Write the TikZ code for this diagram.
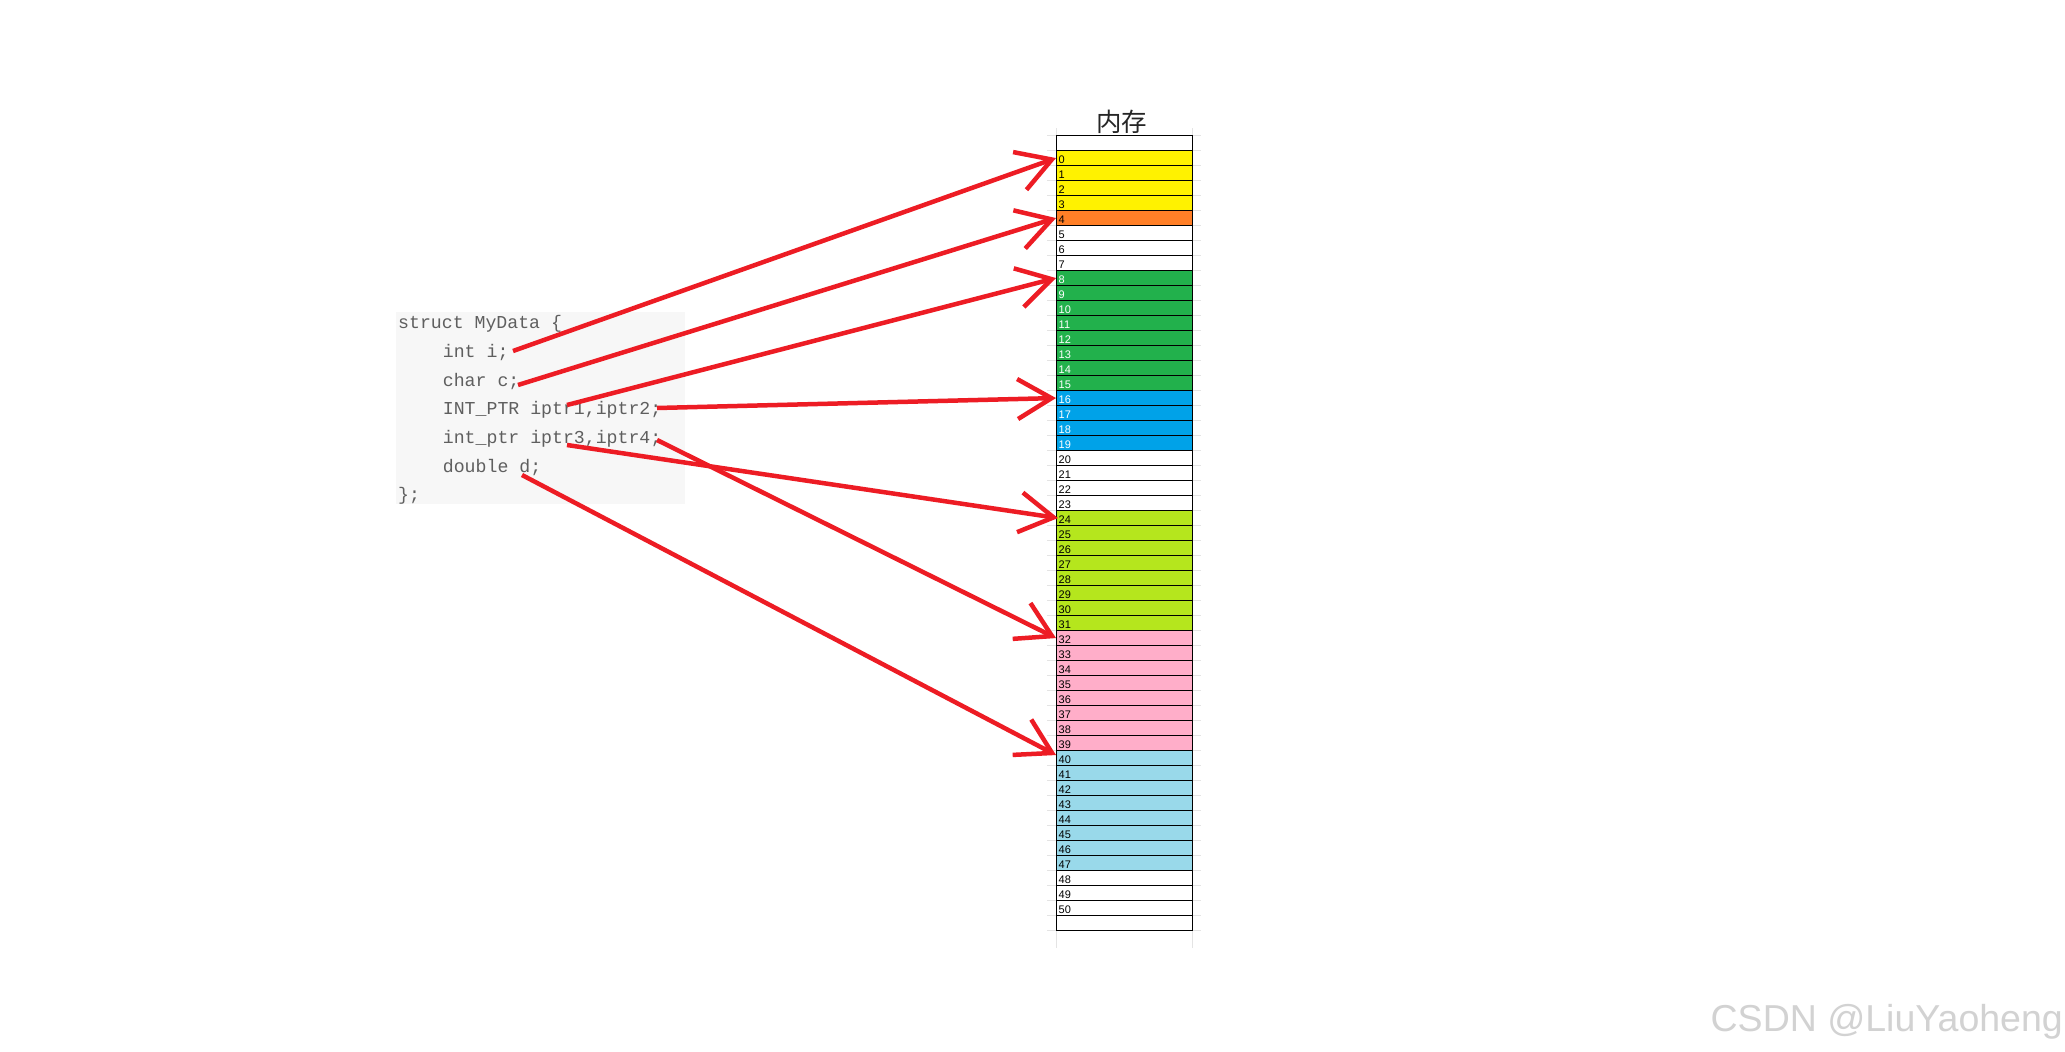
\documentclass[tikz,border=0pt]{standalone}
\usepackage{fontspec}
\usepackage{xcolor}
\usepackage{tikz}
\usetikzlibrary{positioning}
\usetikzlibrary{arrows.meta}
\setmainfont{Liberation Sans}
\newfontfamily\codefont{Liberation Mono}
\newfontfamily\cjkfont{Noto Sans CJK SC}
\definecolor{memyellow}{RGB}{255,242,0}
\definecolor{memorange}{RGB}{255,127,39}
\definecolor{memgreen}{RGB}{34,177,76}
\definecolor{memblue}{RGB}{0,162,232}
\definecolor{memlime}{RGB}{181,230,29}
\definecolor{mempink}{RGB}{255,174,201}
\definecolor{memsky}{RGB}{153,217,234}
\definecolor{paintred}{RGB}{237,28,36}
\definecolor{codebg}{RGB}{247,247,247}
\definecolor{codetext}{RGB}{95,95,95}
\definecolor{gridgray}{RGB}{228,228,228}
\definecolor{markgray}{RGB}{210,210,210}

\begin{document}
\begin{tikzpicture}[x=1pt,y=-1pt]
			\tikzstyle{Cell}    = [shape = rectangle, draw, line width = 1.1pt, minimum width = 136pt, minimum height = 15pt, inner sep = 0pt, anchor = north west]
			\tikzstyle{Num}     = [font = \fontsize{11}{11}\selectfont, inner sep = 0pt, anchor = west]
			\tikzstyle{Code}    = [font = \codefont\fontsize{18.2}{20}\selectfont, text = codetext, inner sep = 0pt, anchor = base west]
			\tikzstyle{Pointer} = [draw = paintred, line width = 4.5pt, -{Straight Barb[length=34pt,width=40pt]}]
			\path[use as bounding box, fill = white] (0,0) rectangle (2065,1052);
			% sheet grid
			\foreach \k in {0,...,53}
				\draw[gridgray, line width = 1pt] (1047,{135+15*\k}) -- (1201,{135+15*\k});
			\draw[gridgray, line width = 1pt] (1056,128) -- (1056,948) (1192,128) -- (1192,948);
			% memory
			\foreach \a/\b/\col in {0/3/memyellow, 4/4/memorange, 8/15/memgreen, 16/19/memblue, 24/31/memlime, 32/39/mempink, 40/47/memsky}
				\fill[\col] (1056,{150+15*\a}) rectangle (1192,{165+15*\b});
			\node[Cell] (rtop) at (1056,135) {};
			\foreach \k in {0,...,50}
				\node[Cell] (r\k) at (1056,{150+15*\k}) {};
			\node[Cell] (rbot) at (1056,915) {};
			\foreach \k in {0,...,7,20,21,...,50}
				\node[Num] (n\k) at ([xshift = 2.5pt, yshift = -1.5pt]r\k.west) {\k};
			\foreach \k in {8,...,19}
				\node[Num, text = white] (n\k) at ([xshift = 2.5pt, yshift = -1.5pt]r\k.west) {\k};
			\node[font = \cjkfont\fontsize{25.5}{25.5}\selectfont, text = black!85, inner sep = 1pt, above = 0pt of rtop, xshift = -3pt] (title) {内存};
			% struct
			\fill[codebg] (396,312) rectangle (685,504);
			\node[Code] (l1) at (398,328.7) {struct MyData \{};
			\node[Code] (l2) at (442.7,357.4) {int i;};
			\node[Code] (l3) at (442.7,386.1) {char c;};
			\node[Code] (l4) at (442.7,414.8) {INT\_PTR iptr1,iptr2;};
			\node[Code] (l5) at (442.7,443.5) {int\_ptr iptr3,iptr4;};
			\node[Code] (l6) at (442.7,472.2) {double d;};
			\node[Code] (l7) at (398,500.9) {\};};
			\coordinate (vi)  at (513,351);
			\coordinate (vc)  at (518,385);
			\coordinate (vp1) at (567,405);
			\coordinate (vp2) at (657,408);
			\coordinate (vp3) at (567,445);
			\coordinate (vp4) at (657,440);
			\coordinate (vd)  at (522,475);
			\draw[Pointer] (vi)  -- (r0.west);
			\draw[Pointer] (vc)  -- (r4.west);
			\draw[Pointer] (vp1) -- (r8.west);
			\draw[Pointer] (vp2) -- (r16.west);
			\draw[Pointer] (vp3) -- ([xshift = 2pt]r24.west);
			\draw[Pointer] (vp4) -- (r32.west);
			\draw[Pointer] (vd)  -- ([yshift = 3pt]r40.west);
			\node[font = \fontsize{37.5}{37.5}\selectfont, text = markgray, inner sep = 0pt, anchor = base east] (mark) at (2063,1031) {CSDN @LiuYaoheng};
		\end{tikzpicture}
\end{document}
